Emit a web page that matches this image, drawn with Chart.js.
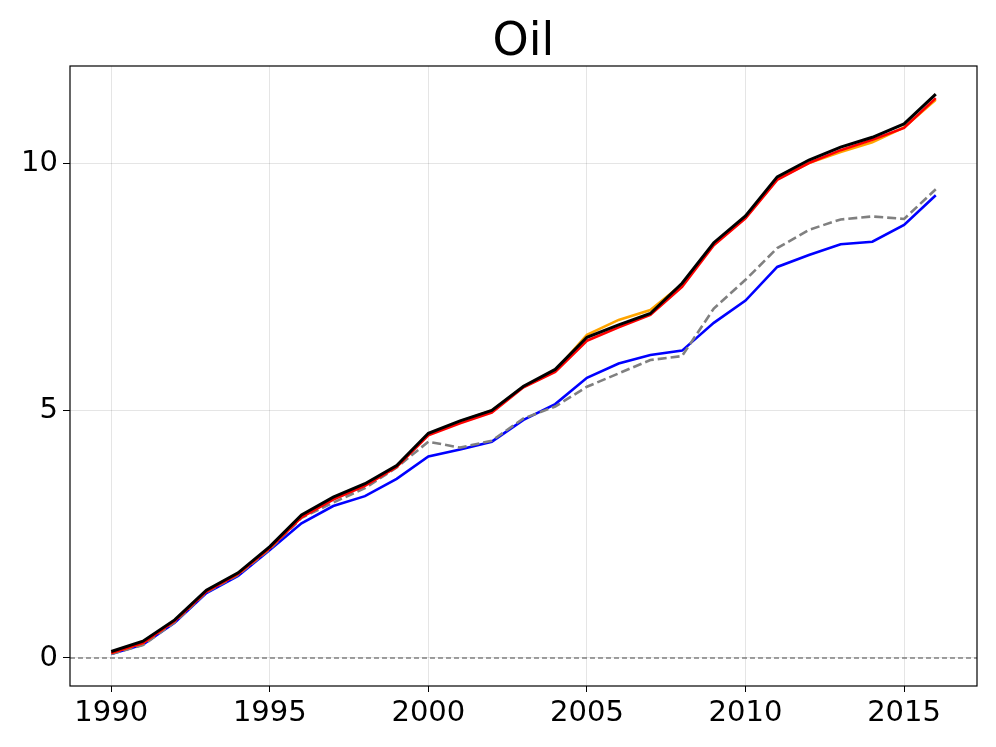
<!DOCTYPE html>
<html>
<head>
<meta charset="utf-8">
<script src="https://cdn.jsdelivr.net/npm/chart.js@4"></script>
<style>
    html, body { margin: 0; padding: 0; background: #fff; }
    #box { width: 996px; height: 747px; }
</style>
</head>
<body>
<div id="box"><canvas id="oilChart"></canvas></div>
<script>
// values
const years = [1990, 1991, 1992, 1993, 1994, 1995, 1996, 1997, 1998, 1999, 2000, 2001, 2002, 2003,
    2004, 2005, 2006, 2007, 2008, 2009, 2010, 2011, 2012, 2013, 2014, 2015, 2016];
const orangeSeries = [0.10, 0.30, 0.76, 1.35, 1.70, 2.22, 2.86, 3.22, 3.50, 3.87, 4.52, 4.78, 5.00, 5.48,
    5.80, 6.53, 6.83, 7.03, 7.55, 8.36, 8.90, 9.68, 10.00, 10.22, 10.42, 10.72, 11.28];
const redSeries = [0.10, 0.30, 0.75, 1.34, 1.70, 2.22, 2.84, 3.20, 3.48, 3.86, 4.50, 4.74, 4.96, 5.47,
    5.78, 6.41, 6.68, 6.93, 7.50, 8.34, 8.88, 9.66, 10.00, 10.26, 10.47, 10.71, 11.31];
const blackSeries = [0.13, 0.34, 0.77, 1.37, 1.72, 2.25, 2.89, 3.25, 3.52, 3.89, 4.54, 4.79, 5.00, 5.49,
    5.83, 6.48, 6.73, 6.96, 7.57, 8.39, 8.93, 9.72, 10.06, 10.32, 10.52, 10.79, 11.39];
const blueSeries = [0.08, 0.27, 0.71, 1.31, 1.66, 2.18, 2.72, 3.07, 3.27, 3.62, 4.07, 4.21, 4.37, 4.81,
    5.13, 5.66, 5.95, 6.12, 6.21, 6.77, 7.22, 7.90, 8.14, 8.36, 8.41, 8.75, 9.35];
const graySeries = [0.08, 0.26, 0.72, 1.33, 1.68, 2.20, 2.83, 3.14, 3.43, 3.85, 4.37, 4.25, 4.39, 4.84,
    5.08, 5.48, 5.75, 6.02, 6.10, 7.06, 7.64, 8.28, 8.65, 8.86, 8.92, 8.87, 9.47];
const xTicks = [1990, 1995, 2000, 2005, 2010, 2015];
const yTicks = [0, 5, 10];
const titleText = 'Oil';

const FONT = "'DejaVu Sans', sans-serif";

function toPoints(values) {
    return values.map((v, i) => ({ x: years[i], y: v }));
}

function makeLine(values, color, width, dash) {
    return {
        data: toPoints(values),
        borderColor: color,
        backgroundColor: color,
        borderWidth: width,
        borderDash: dash || [],
        pointRadius: 0,
        tension: 0,
        fill: false
    };
}

// frame around plot, dashed zero line and title centred over the plot area
const framePlugin = {
    id: 'framePlugin',
    beforeDatasetsDraw(chart) {
        const { ctx, chartArea, scales } = chart;
        const y0 = scales.y.getPixelForValue(0);
        ctx.save();
        ctx.strokeStyle = '#808080';
        ctx.lineWidth = 1.3;
        ctx.setLineDash([5, 3]);
        ctx.beginPath();
        ctx.moveTo(chartArea.left, y0);
        ctx.lineTo(chartArea.right, y0);
        ctx.stroke();
        ctx.restore();
    },
    afterDraw(chart) {
        const { ctx, chartArea } = chart;
        ctx.save();
        ctx.strokeStyle = '#000';
        ctx.lineWidth = 1.2;
        ctx.strokeRect(chartArea.left, chartArea.top,
            chartArea.right - chartArea.left, chartArea.bottom - chartArea.top);
        ctx.fillStyle = '#000';
        ctx.font = '46px ' + FONT;
        ctx.textAlign = 'center';
        ctx.textBaseline = 'alphabetic';
        ctx.fillText(titleText, (chartArea.left + chartArea.right) / 2, 55);
        ctx.restore();
    }
};

new Chart(document.getElementById('oilChart'), {
    type: 'line',
    data: {
        datasets: [
            makeLine(blueSeries, '#0000ff', 2.6),
            makeLine(graySeries, '#808080', 2.6, [9, 4]),
            makeLine(orangeSeries, '#ffa500', 2.6),
            makeLine(redSeries, '#ff0000', 2.6),
            makeLine(blackSeries, '#000000', 3)
        ].reverse()
    },
    options: {
        responsive: true,
        maintainAspectRatio: false,
        animation: false,
        layout: { padding: { left: 0, right: 19, top: 66, bottom: 0 } },
        plugins: {
            legend: { display: false },
            tooltip: { enabled: false },
            title: { display: false }
        },
        scales: {
            x: {
                type: 'linear',
                min: 1988.7,
                max: 2017.3,
                afterBuildTicks(axis) { axis.ticks = xTicks.map(v => ({ value: v })); },
                afterFit(axis) { axis.height = 61; },
                ticks: {
                    color: '#000',
                    font: { family: FONT, size: 29 },
                    padding: 4,
                    maxRotation: 0,
                    callback: v => String(v)
                },
                grid: { color: 'rgba(0,0,0,0.1)', tickColor: '#000', tickLength: 6, lineWidth: 1 },
                border: { display: false }
            },
            y: {
                type: 'linear',
                min: -0.566,
                max: 11.96,
                afterBuildTicks(axis) { axis.ticks = yTicks.map(v => ({ value: v })); },
                afterFit(axis) { axis.width = 70; },
                ticks: {
                    color: '#000',
                    font: { family: FONT, size: 29 },
                    padding: 5,
                    callback: v => String(v)
                },
                grid: { color: 'rgba(0,0,0,0.1)', tickColor: '#000', tickLength: 7, lineWidth: 1 },
                border: { display: false }
            }
        }
    },
    plugins: [framePlugin]
});
</script>
</body>
</html>
